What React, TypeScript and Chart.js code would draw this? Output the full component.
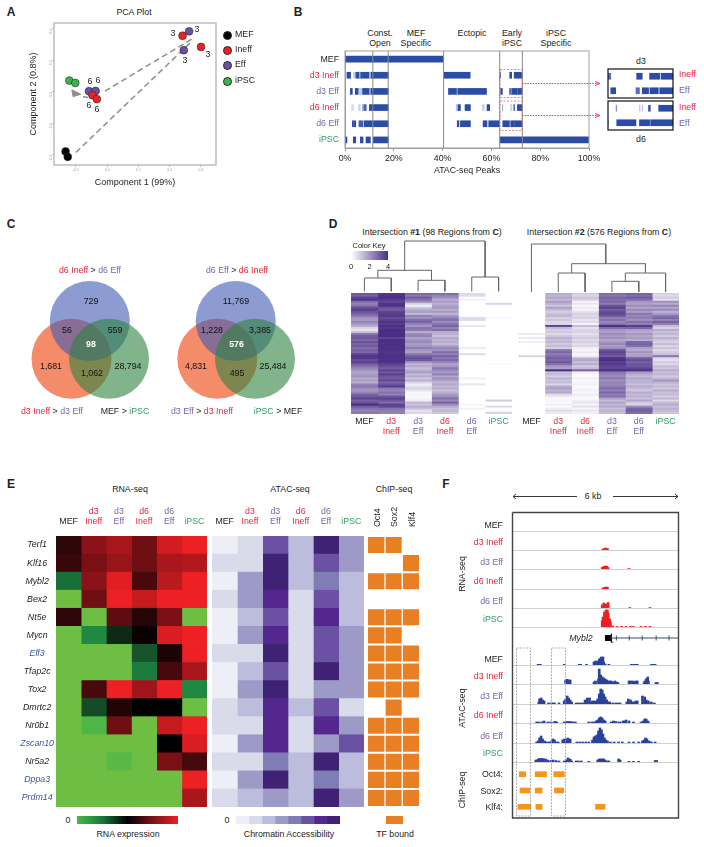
import React, { useEffect, useRef } from 'react';
import { Chart, registerables } from 'chart.js';

Chart.register(...registerables);
const FONT = '"Liberation Sans", Arial, sans-serif';
Chart.defaults.font.family = FONT;
Chart.defaults.font.size = 9;
Chart.defaults.color = '#222';

const RED = '#E6263A';
const PUR = '#7B64AE';
const GRN = '#2F9E62';
const BLK = '#222222';
const BLUE = '#3B55A5';

/* ---------- Panel A ---------- */
const pcaXTicks = [-0.1, 0, 0.1, 0.2, 0.3];
const pcaYTicks = [-0.4, -0.2, 0, 0.2, 0.4];
const pcaMEF = [[-0.133, -0.379], [-0.126, -0.413]];
const pcaIneff = [[0.241, 0.357], [0.3, 0.286], [-0.047, -0.021], [-0.033, -0.046]];
const pcaEff = [[0.262, 0.385], [0.245, 0.265], [-0.058, 0.004], [-0.037, 0.006]];
const pcaIPSC = [[-0.121, 0.072], [-0.102, 0.057]];
const pcaPathA = [[-0.1, -0.385], [0.273, 0.326]];
const pcaPathB = [[0.27, 0.335], [-0.011, 0]];
const pcaPathC = [[-0.036, -0.043], [-0.08, -0.03]];
const pcaArrowHead = [[-0.109, -0.03], [-0.113, 0.013], [-0.084, -0.015], [-0.109, -0.03]];

/* ---------- Panel B ---------- */
const bRows = ['MEF', 'd3 Ineff', 'd3 Eff', 'd6 Ineff', 'd6 Eff', 'iPSC'];
const bSections = [11.4, 17.7, 40.4, 63.4, 72.7];
const segMEF = [[0, 40.4, 1]];
const segD3Ineff = [[0.8, 2.3, 1], [3.5, 3.9, 0.3], [4.4, 5.9, 1], [5.9, 6.5, 0.5], [6.5, 7.2, 1], [7.4, 10, 1], [10, 10.7, 0.4], [10.7, 17.8, 1], [40.6, 51.3, 1], [63.45, 63.8, 0.8], [67.5, 68.3, 1], [69.35, 70.8, 1], [71, 72.7, 1]];
const segD3Eff = [[2.2, 3, 1], [4.2, 5.6, 1], [5.6, 7, 0.3], [7.2, 10, 1], [10, 10.7, 0.5], [10.7, 17.8, 1], [42.4, 45.7, 1], [46.2, 58, 1], [63.8, 64.5, 1], [67.4, 67.9, 0.8], [68.3, 69.2, 1], [69.4, 70.6, 1], [70.8, 72.7, 1]];
const segD6Ineff = [[2.7, 3.4, 0.2], [5.6, 6.3, 0.25], [7.2, 7.9, 0.6], [8, 8.7, 0.9], [10, 17.8, 1], [45.6, 46.4, 0.35], [46.4, 47.3, 1], [49.2, 51.4, 1], [56.3, 57.1, 0.25], [58.2, 59.3, 1], [64.55, 64.65, 0.6], [67.9, 68, 0.3], [68.3, 68.4, 0.3], [69.2, 69.45, 1], [70.65, 72.7, 1]];
const segD6Eff = [[3, 3.5, 1], [3.8, 4.4, 1], [5.7, 7.4, 0.9], [7.9, 17.8, 1], [46, 46.7, 1], [47.3, 51.4, 1], [56.6, 58.2, 1], [58.9, 63.4, 1], [64.65, 67.4, 1], [67.9, 69.35, 1], [69.5, 72.7, 1]];
const segIPSC = [[0, 0.8, 1], [3.4, 4.4, 1], [6.3, 7.4, 1], [8.6, 10.4, 1], [11.6, 17.8, 1], [63.6, 100, 1]];
const bSegments = [segMEF, segD3Ineff, segD3Eff, segD6Ineff, segD6Eff, segIPSC];
const bRowColors = [BLK, RED, PUR, RED, PUR, GRN];

/* ---------- Panel C ---------- */
const vennCountsLeft = ['729', '56', '559', '98', '1,681', '1,062', '28,794'];
const vennCountsRight = ['11,769', '1,228', '3,385', '576', '4,831', '495', '25,484'];

/* ---------- Panel D ---------- */
const dCols = ['MEF', ['d3', 'Ineff'], ['d3', 'Eff'], ['d6', 'Ineff'], ['d6', 'Eff'], 'iPSC'];
const dColColors1 = [BLK, RED, PUR, RED, PUR, GRN];
const dCols2 = ['MEF', ['d3', 'Ineff'], ['d6', 'Ineff'], ['d3', 'Eff'], ['d6', 'Eff'], 'iPSC'];
const dColColors2 = [BLK, RED, RED, PUR, PUR, GRN];
const i1MEF = [3.2,3.0,3.6,3.9,2.8,2.4,2.7,3.4,3.7,3.3,3.0,2.6,2.1,1.9,2.3,2.0,1.6,0.8,0.5,1.2,2.6,3.1,3.2,2.9,3.3,3.0,3.2,2.8,3.1,2.9,3.6,3.9,3.8,3.4,3.7,3.1,2.7,2.4,2.0,1.7,1.9,2.1,1.6,1.8,1.5,2.4,2.6,2.2,2.0,2.3,3.0,3.2,3.6,3.0,3.3,4.0,3.1,2.7,2.4,2.6];
const i1D3Ineff = [3.8,3.9,4.0,3.7,3.5,3.9,3.9,3.3,3.1,3.6,3.7,3.8,3.4,3.6,3.9,3.7,4.0,3.8,4.0,4.0,4.0,4.0,3.6,4.0,4.0,4.0,4.0,4.0,4.0,3.9,4.0,4.0,4.0,4.0,4.0,3.6,3.4,3.1,3.6,3.2,3.6,3.3,3.1,3.5,2.9,3.3,3.7,2.6,2.3,2.7,2.4,3.2,3.6,3.2,2.8,3.6,3.5,2.7,2.5,2.4];
const i1D3Eff = [2.9,2.6,3.1,2.7,2.2,0.9,0.3,1.1,1.6,1.9,1.3,2.4,2.1,2.8,3.0,2.4,2.0,2.7,2.5,1.6,2.2,2.4,1.8,2.1,2.3,1.9,2.1,2.5,2.0,1.8,2.6,3.1,3.4,3.2,2.0,1.4,1.7,1.2,1.6,1.9,1.3,1.6,1.1,1.5,0.9,0.3,0.6,0.9,0.5,0.2,0.2,0.1,0.2,0.4,1.4,1.1,1.6,1.2,0.6,0.8];
const i1D6Ineff = [2.8,2.4,2.1,1.6,1.9,1.5,1.8,2.0,1.6,1.9,1.4,2.0,2.4,2.8,2.2,2.6,3.0,2.4,2.7,1.6,1.5,1.2,1.7,1.4,1.6,1.3,1.9,2.3,2.1,2.8,2.4,3.0,2.6,2.9,2.3,1.8,2.0,2.6,2.2,2.0,2.4,1.7,2.1,1.8,1.4,1.7,1.3,1.6,1.2,1.5,1.9,2.2,2.7,2.3,3.0,2.2,1.6,1.2,1.4,1.1];
const i1D6Eff = [.7,.7,0,.3,0,0,0,0,0,0,0,0,.7,.7,0,0,.5,0,0,0,0,0,0,0,0,0,0,.4,0,0,.7,0,0,0,0,0,0,0,0,0,0,0,.3,0,0,.5,0,0,0,0,0,0,0,0,0,.2,0,.3,0,0];
const i1IPSC = [0,0,0,0,0,.8,0,0,0,0,0,0,.1,0,0,0,0,0,0,0,0,0,0,0,0,0,0,0,0,0,0,0,0,0,0,.1,0,0,0,0,0,0,0,0,0,0,0,0,0,0,0,0,0,1.0,0,0,.7,0,0,.8];
const i2MEF = [0,0,0,0,0,0,0,0,0,0,0,0,0,0,0,0,0,0,0,0,.4,0,.4,0,.3,0,0,0,0,0,0,.8,0,0,0,0,0,0,0,0,0,0,0,0,0,0,0,0,0,0,0,0,0,0,0,0,0,0,0,0];
const i2D3Ineff = [1.6,1.4,1.7,1.3,1.9,1.5,1.1,1.8,1.3,0.9,1.2,1.4,0.9,1.1,0.8,0.7,3.5,1.3,0.9,1.0,0.7,1.1,1.5,1.2,1.4,1.0,1.3,0.9,2.6,2.9,2.5,2.8,3.1,2.9,3.2,2.7,2.0,1.8,4.0,1.2,1.3,0.9,1.5,1.1,1.3,0.8,1.6,1.8,1.4,1.7,0.7,0.4,0.1,0.2,0.1,0.3,0.1,0.3,0.7,0.4];
const i2D6Ineff = [1.0,0.8,1.1,0.9,0.2,0.5,0.1,0.4,0.2,0.6,0.9,0.7,0.9,0.5,0.7,0.2,1.3,0.6,0.8,0.9,0.6,0.8,1.0,0.7,0.9,0.6,0.8,0.3,0.2,0.4,0.2,0.3,1.4,1.7,1.2,1.6,1.0,1.3,3.0,0.3,0.2,0.1,0.3,0.1,0.2,0.3,0.1,0.2,0.3,0.1,0.4,0.2,0.1,0.3,0.5,0.2,0.6,0.2,0.5,0.3];
const i2D3Eff = [2.8,2.6,3.0,2.7,2.9,2.5,3.3,3.6,3.1,3.4,3.5,3.2,2.4,2.7,2.3,2.6,4.0,2.8,2.0,1.8,2.2,1.9,2.1,1.7,2.0,2.3,1.9,2.2,3.3,3.6,3.4,3.2,3.9,4.0,3.7,3.8,3.6,3.5,4.0,2.6,2.4,2.2,2.6,2.1,2.4,2.2,2.5,2.8,2.4,2.9,2.5,2.7,1.8,1.3,1.7,1.4,1.6,1.2,1.5,1.3];
const i2D6Eff = [3.0,2.8,3.1,2.7,2.0,1.8,2.2,1.7,2.3,1.9,2.6,2.3,2.5,2.1,2.7,2.4,3.7,2.9,1.8,1.6,2.0,1.7,1.9,1.6,2.9,3.0,2.7,1.8,1.6,2.1,1.7,1.9,3.1,3.4,3.0,3.3,3.2,3.6,3.9,2.0,1.6,1.3,1.7,1.4,1.5,1.2,1.6,1.3,1.1,1.6,1.3,1.5,1.2,1.7,1.0,0.8,2.2,2.9,3.1,2.8];
const i2IPSC = [0.9,0.7,1.0,0.6,2.1,1.6,2.3,1.7,2.2,1.5,1.9,2.6,2.9,2.4,3.0,2.5,1.3,0.9,1.6,1.2,1.4,1.0,1.5,1.1,0.9,1.3,0.8,1.2,0.7,1.0,1.2,2.6,0.8,0.6,1.0,0.7,1.3,1.1,1.6,1.2,1.4,1.0,1.3,2.0,1.5,1.1,1.4,1.0,1.6,1.2,1.3,0.9,1.4,0.7,1.3,1.6,1.2,1.5,1.3,1.1];
const dendro1 = [
  [[0.5, 1.7], [0.5, 15], [1.5, 15], [1.5, 1.7]],
  [[2.5, 1.7], [2.5, 12.7], [3.5, 12.7], [3.5, 1.7]],
  [[4.5, 1.7], [4.5, 16], [5.5, 16], [5.5, 1.7]],
  [[1, 15], [1, 22.7], [3, 22.7], [3, 12.7]],
  [[2, 22.7], [2, 52], [5, 52], [5, 16]],
];
const dendro2 = [
  [[3.5, 1], [3.5, 11.7], [4.5, 11.7], [4.5, 1]],
  [[1.5, 1], [1.5, 20], [2.5, 20], [2.5, 1]],
  [[4, 11.7], [4, 20], [5.5, 20], [5.5, 1]],
  [[2, 20], [2, 29.3], [4.75, 29.3], [4.75, 20]],
  [[0.5, 1], [0.5, 49], [3.27, 49], [3.27, 29.3]],
];
const colorKeyTicks = [0, 2, 4];

/* ---------- Panel E ---------- */
const genes = ['Terf1', 'Klf16', 'Mybl2', 'Bex2', 'Nt5e', 'Mycn', 'Elf3', 'Tfap2c', 'Tox2', 'Dmrtc2', 'Nr0b1', 'Zscan10', 'Nr5a2', 'Dppa3', 'Prdm14'];
const blueGenes = ['Elf3', 'Zscan10', 'Dppa3', 'Prdm14'];
const eCols = ['MEF', ['d3', 'Ineff'], ['d3', 'Eff'], ['d6', 'Ineff'], ['d6', 'Eff'], 'iPSC'];
const rnaMEF = [.58, .6, .28, 0, .58, 0, 0, 0, 0, 0, 0, 0, 0, 0, 0];
const rnaD3Ineff = [.75, .72, .75, .7, 0, .22, 0, 0, .63, .35, .07, 0, 0, 0, 0];
const rnaD3Eff = [.82, .78, .97, 1, .67, .42, 0, 0, 1, .56, .7, 0, .05, 0, 0];
const rnaD6Ineff = [.7, .7, .63, .9, .57, .52, .33, .25, .8, .5, 0, 0, 0, 0, 0];
const rnaD6Eff = [.93, .83, .87, 1, .72, .95, .55, .63, 1, .5, .9, .5, .72, 0, 0];
const rnaIPSC = [1, .85, 1, 1, 0, 1, 1, .83, .22, 0, 1, .95, .62, 1, .83];
const atacMEF = [1, 2, 1, 2, 1, 1, 2, 1, 1, 2, 2, 1, 2, 1, 2];
const atacD3Ineff = [2, 2, 4, 4, 3, 4, 2, 3, 4, 3, 2, 4, 2, 4, 3];
const atacD3Eff = [6, 8, 8, 7, 6, 7, 8, 6, 8, 7, 7, 7, 5, 8, 4];
const atacD6Ineff = [3, 3, 3, 2, 2, 2, 2, 2, 2, 3, 2, 2, 3, 3, 3];
const atacD6Eff = [8, 6, 5, 6, 7, 6, 6, 8, 4, 6, 7, 4, 8, 5, 8];
const atacIPSC = [4, 4, 3, 3, 3, 4, 4, 4, 4, 2, 4, 6, 3, 3, 4];
const atacPalette = ['#EEEEF6', '#DADBEA', '#BCBDDC', '#9E9AC8', '#807DB6', '#6A51A3', '#54278F', '#3F2273'];
const atacKeyLevels = [[1], [2], [3], [4], [5], [6], [7], [8]];
const chipFactors = ['Oct4', 'Sox2', 'Klf4'];
const chipOct4 = [1, 0, 1, 0, 1, 1, 1, 1, 1, 0, 1, 1, 1, 1, 1];
const chipSox2 = [1, 0, 1, 0, 1, 1, 1, 1, 1, 1, 1, 1, 1, 1, 1];
const chipKlf4 = [0, 1, 1, 0, 1, 0, 1, 1, 1, 0, 1, 1, 1, 1, 1];

/* ---------- Panel F (bins along the 6 kb window, heights in track units) ---------- */
const trackNames = ['MEF', 'd3 Ineff', 'd3 Eff', 'd6 Ineff', 'd6 Eff', 'iPSC'];
const trackColors = [BLK, RED, PUR, RED, PUR, GRN];
const rnaTrackMEF: number[][] = [];
const rnaTrackD3Ineff = [[93, 1], [95, 1.5], [97, 2], [99, 1.5]];
const rnaTrackD3Eff = [[92, 1.5], [94, 2.5], [96, 3], [98, 2.8], [100, 1.5], [128, 0.5]];
const rnaTrackD6Ineff = [[93, 1], [95, 1.5], [97, 2], [99, 1.8]];
const rnaTrackD6Eff = [[92, 3], [94, 5], [96, 4], [98, 4], [100, 5.5], [129, 0.5], [156, 0.5]];
const rnaTrackIPSC = [[92, 6], [93, 10], [95, 15], [97, 17], [99, 17], [100, 14], [102, 8], [103, 5], [106, 1], [112, 0.6], [118, 0.6], [124, 0.6], [130, 0.6], [134, 0.6], [144, 0.6], [150, 0.6], [156, 0.6]];
const atacTrackMEF = [[6, .7], [9, .7], [41, .7], [61, .7], [63, .7], [71, .7], [81, 3], [83, 4], [85, 3.5], [87, 4], [88, 6], [90, 7], [91, 8], [93, 8], [94, 3], [96, 1], [101, .7], [131, .7], [134, .7], [137, .7], [139, .7], [158, .7], [161, .7], [163, .7]];
const atacTrackD3Ineff = [[43, 4], [45, 4.7], [47, 4], [49, 4], [81, 2], [83, 3], [87, 5], [88, 15], [90, 9], [92, 7], [94, 6], [96, 5], [98, 4], [100, 3], [102, 3], [104, 3], [106, 2], [109, 3], [111, 2], [113, 1.5], [128, 3], [130, 3], [133, 3], [135, 2], [137, 3], [139, 3], [148, 1], [149, 3], [151, 5], [153, 7], [154, 3], [164, 1.5], [166, 1.5]];
const atacTrackD3Eff = [[7, 2], [8, 5], [10, 6], [12, 4], [14, 3], [20, 1], [24, 1], [26, 1], [28, 1], [34, 1], [41, 3], [43, 5], [45, 8], [47, 6], [49, 4], [51, 2], [57, 1], [60, 1], [63, 1], [66, 1], [69, 4], [72, 6], [75, 6], [77, 2], [79, 3], [81, 3], [84, 3], [86, 5], [88, 10], [90, 15], [92, 14], [94, 10], [96, 7], [98, 4], [100, 2], [102, 2], [106, 1], [110, 1], [113, 1], [116, 1], [125, 2], [127, 5], [130, 4], [132, 2], [134, 2], [137, 3], [139, 3], [146, 8], [149, 7], [151, 4], [154, 3], [158, 2], [162, 1]];
const atacTrackD6Ineff = [[4, 1], [7, 1], [11, 1], [14, 2], [19, 1], [23, 1], [27, 1], [29, 1.5], [31, 1], [41, 1], [44, 1.5], [47, 1.5], [50, 1.5], [53, 1], [56, 1], [74, 1], [78, 1], [81, 1], [84, 2], [86, 3], [88, 5], [90, 6], [92, 5], [94, 3], [96, 2], [104, 1], [107, 2], [110, 1.5], [114, 1], [116, 1], [120, 2], [122, 2], [124, 3], [128, 2], [134, 1], [144, 1], [147, 2], [149, 4], [151, 4], [153, 2], [154, 1]];
const atacTrackD6Eff = [[4, 1], [6, 2], [8, 5], [10, 7], [12, 4], [15, 2], [18, 1], [21, 1], [24, 2], [26, 4], [28, 3], [31, 1], [33, 1], [39, 3], [41, 4], [44, 4], [46, 5], [49, 4], [58, 1], [62, 1], [66, 1], [70, 1], [74, 1], [79, 3], [81, 6], [83, 7], [85, 8], [87, 12], [89, 15], [91, 13], [93, 9], [95, 5], [97, 3], [99, 2], [103, 1], [108, 1], [114, 1], [119, 1], [128, 1], [134, 1], [141, 1], [146, 2], [148, 3], [150, 5], [152, 4], [155, 2], [158, 1], [163, 1]];
const atacTrackIPSC = [[3, 2], [6, 3], [8, 3.5], [10, 3.5], [13, 3.5], [16, 3], [19, 2], [23, 1.5], [26, 2], [30, 1.5], [34, 1], [41, 1], [44, 2], [46, 4], [49, 3], [51, 1], [57, 1], [60, 1], [64, 1], [74, .7], [86, 2], [88, 3], [90, 3], [92, 3], [94, 3], [96, 2], [99, 1], [101, 1], [114, 3], [116, 2], [128, .7], [134, .7], [141, .7], [163, 1.5], [165, 1.5]];
const rnaTracks = [rnaTrackMEF, rnaTrackD3Ineff, rnaTrackD3Eff, rnaTrackD6Ineff, rnaTrackD6Eff, rnaTrackIPSC];
const atacTracks = [atacTrackMEF, atacTrackD3Ineff, atacTrackD3Eff, atacTrackD6Ineff, atacTrackD6Eff, atacTrackIPSC];
const chipRows = ['Oct4', 'Sox2', 'Klf4'];
const chipPeaksOct4 = [[6.3, 12.7], [22.3, 33.7], [41, 51.7]];
const chipPeaksSox2 = [[7, 17], [22.3, 29.3], [41.7, 51]];
const chipPeaksKlf4 = [[5, 18], [23, 29.3], [83, 92.7]];
const geneExons = [104, 117, 130, 144, 157];
const geneIntron = [[98, 0], [166, 0]];
const geneTSS = [[95.5, 0]];
const geneBracket = [[99, 3], [99, -3], [101, -3]];

/* ---------- Helpers ---------- */
const lerp = (a: number[], b: number[], t: number) =>
  `rgb(${a.map((v, i) => Math.round(v + (b[i] - v) * t)).join(',')})`;
const purple = (v: number) => lerp([255, 255, 255], [74, 46, 132], Math.min(1, v / 4));
const rnaStops: any[] = [[0, [111, 190, 68]], [0.12, [53, 178, 74]], [0.25, [27, 123, 62]], [0.4, [18, 51, 28]], [0.5, [0, 0, 0]], [0.75, [139, 18, 24]], [1, [237, 32, 36]]];
const rnaColor = (v: number) => {
  for (let i = 1; i < rnaStops.length; i++) {
    if (v <= rnaStops[i][0]) {
      const [a, ca] = rnaStops[i - 1];
      const [b, cb] = rnaStops[i];
      return lerp(ca, cb, (v - a) / (b - a));
    }
  }
  return 'rgb(237,32,36)';
};
const segColor = (l: number) => lerp([255, 255, 255], [42, 76, 164], l);

const framePlugin: any = {
  id: 'frame',
  afterDatasetsDraw(chart: any, _a: any, o: any) {
    if (!o || !o.color) return;
    const { left, top, width, height } = chart.chartArea;
    const c = chart.ctx;
    c.save();
    c.strokeStyle = o.color;
    c.lineWidth = o.width || 1;
    c.strokeRect(left, top, width, height);
    c.restore();
  },
};
const sectionsPlugin: any = {
  id: 'sections',
  afterDatasetsDraw(chart: any, _a: any, o: any) {
    if (!o || !o.values) return;
    const c = chart.ctx;
    const { top, bottom } = chart.chartArea;
    c.save();
    c.strokeStyle = o.color;
    c.lineWidth = 1;
    for (const v of o.values) {
      const x = chart.scales.x.getPixelForValue(v);
      c.beginPath();
      c.moveTo(x, top);
      c.lineTo(x, bottom);
      c.stroke();
    }
    c.restore();
  },
};
Chart.register(framePlugin, sectionsPlugin);

type M = { l?: number; t?: number; r?: number; b?: number };
type PlotDef = { plot: number[]; m?: M; config: any };

const NO_GRID = { display: false, drawTicks: false };

const baseOptions = (padding: any, extra: any = {}) => ({
  responsive: false,
  animation: false,
  events: [],
  layout: { padding, autoPadding: false },
  ...extra,
  plugins: { legend: { display: false }, tooltip: { enabled: false }, title: { display: false }, ...(extra.plugins || {}) },
});
const fit = (prop: string, n: number) => (s: any) => {
  s[prop] = n;
  s.paddingLeft = 0;
  s.paddingRight = 0;
  s.paddingTop = 0;
  s.paddingBottom = 0;
};

function Plot({ plot, m = {}, config }: PlotDef) {
  const ref = useRef<HTMLCanvasElement>(null);
  const l = m.l || 0, t = m.t || 0, r = m.r || 0, b = m.b || 0;
  const w = plot[2] - plot[0] + l + r;
  const h = plot[3] - plot[1] + t + b;
  useEffect(() => {
    const chart = new Chart(ref.current as any, config);
    return () => chart.destroy();
  }, []);
  return (
    <canvas
      ref={ref}
      width={w}
      height={h}
      style={{ position: 'absolute', left: plot[0] - l, top: plot[1] - t, width: w, height: h, display: 'block' }}
    />
  );
}

function T({ x, y, c = BLK, s = 8.8, a = 'c', rot = 0, b = false, i = false, children }: any) {
  const tx = a === 'c' ? '-50%' : a === 'r' ? '-100%' : '0';
  return (
    <span
      style={{
        position: 'absolute', left: x, top: y, color: c, fontSize: s, fontFamily: FONT, lineHeight: 1,
        fontWeight: b ? 700 : 400, fontStyle: i ? 'italic' : 'normal', whiteSpace: 'nowrap',
        transform: `translate(${tx},-50%)${rot ? ` rotate(${rot}deg)` : ''}`,
      }}
    >
      {children}
    </span>
  );
}

/* ---------- Configs ---------- */
const xy = (pts: number[][]) => pts.map(([x, y]) => ({ x, y }));
const pathDs = (pts: number[][], color: string, width: number, dash: number[] = []) => ({
  type: 'scatter', data: xy(pts), showLine: true, borderColor: color, borderWidth: width, borderDash: dash, pointRadius: 0, fill: false, tension: 0,
});
const ptDs = (pts: number[][], color: string) => ({
  data: xy(pts), backgroundColor: color, borderColor: '#2a2a2a', borderWidth: 0.6, pointRadius: 3.9, showLine: false,
});

const pcaConfig = {
  type: 'scatter',
  data: {
    datasets: [
      ptDs(pcaMEF, '#000000'), ptDs(pcaIneff, '#ED2024'), ptDs(pcaEff, '#6A4FA3'), ptDs(pcaIPSC, '#3AB54A'),
      pathDs(pcaPathA, '#8E8E8E', 1.5, [6, 3.5]), pathDs(pcaPathB, '#8E8E8E', 1.5, [6, 3.5]), pathDs(pcaPathC, '#8E8E8E', 1.5, [5, 3]),
      { ...pathDs(pcaArrowHead, '#8E8E8E', 1), fill: 'shape', backgroundColor: '#8E8E8E' },
    ],
  },
  options: baseOptions({ top: 5, right: 2 }, {
    scales: {
      x: {
        min: -0.17, max: 0.348,
        afterBuildTicks: (s: any) => { s.ticks = pcaXTicks.map((value) => ({ value })); },
        afterFit: fit('height', 23),
        grid: { drawOnChartArea: false, tickLength: 2, color: '#bbb' }, border: { display: false },
        ticks: { font: { size: 3.5 }, color: '#999', padding: 1, autoSkip: false, maxRotation: 0, callback: (v: number) => v.toFixed(1) },
        title: { display: true, text: 'Component 1 (99%)', font: { size: 9 }, color: BLK, padding: 0 },
      },
      y: {
        min: -0.465, max: 0.438,
        afterBuildTicks: (s: any) => { s.ticks = pcaYTicks.map((value) => ({ value })); },
        afterFit: fit('width', 26),
        grid: { drawOnChartArea: false, tickLength: 2, color: '#bbb' }, border: { display: false },
        ticks: { font: { size: 3.5 }, color: '#999', padding: 1, autoSkip: false, minRotation: 90, maxRotation: 90, callback: (v: number) => v.toFixed(1) },
        title: { display: true, text: 'Component 2 (0.8%)', font: { size: 9 }, color: BLK, padding: 0 },
      },
    },
    plugins: { frame: { color: '#BDBDBD', width: 1.5 } },
  }),
};

const segDatasets = (idx: number[]) =>
  idx.map((k) => ({
    data: bSegments[k].map((s) => ({ x: [s[0], s[1]], y: bRows[k] })),
    backgroundColor: bSegments[k].map((s) => segColor(s[2])),
    barThickness: 6, grouped: false, borderWidth: 0,
  }));

const bConfig = {
  type: 'bar',
  data: { labels: bRows, datasets: segDatasets([0, 1, 2, 3, 4, 5]) },
  options: baseOptions({ right: 16, top: 2 }, {
    indexAxis: 'y',
    scales: {
      x: {
        type: 'linear', min: 0, max: 100, afterFit: fit('height', 28),
        grid: { drawOnChartArea: false, tickLength: 3, color: '#999' }, border: { color: '#999' },
        ticks: { stepSize: 20, padding: 2, font: { size: 8.8 }, color: BLK, maxRotation: 0, callback: (v: number) => `${v}%` },
        title: { display: true, text: 'ATAC-seq Peaks', font: { size: 8.8 }, color: BLK, padding: 0 },
      },
      y: {
        type: 'category', afterFit: fit('width', 45),
        grid: NO_GRID, border: { color: '#999' },
        ticks: { padding: 6, font: { size: 8.8 }, autoSkip: false, color: (c: any) => bRowColors[c.index] },
      },
    },
    plugins: { frame: { color: '#A0A0A0', width: 1 }, sections: { values: bSections, color: '#8A8A8A' } },
  }),
};

const insetConfig = (rowsIdx: number[]) => ({
  type: 'bar',
  data: { labels: rowsIdx.map((k) => bRows[k]), datasets: segDatasets(rowsIdx) },
  options: baseOptions({ left: 1, right: 1, top: 1, bottom: 1 }, {
    indexAxis: 'y',
    scales: {
      x: { type: 'linear', min: 63.4, max: 72.7, display: false },
      y: { type: 'category', display: false },
    },
    plugins: { frame: { color: '#111', width: 1.2 } },
  }),
});

const vennConfig = (blue: number[], orange: number[], green: number[]) => ({
  type: 'bubble',
  data: {
    datasets: [
      { data: [{ x: green[0], y: green[1], r: 40 }], backgroundColor: 'rgba(47,130,63,0.6)', borderWidth: 0 },
      { data: [{ x: blue[0], y: blue[1], r: 40 }], backgroundColor: 'rgba(63,88,180,0.6)', borderWidth: 0 },
      { data: [{ x: orange[0], y: orange[1], r: 40 }], backgroundColor: 'rgb(245,140,105)', borderWidth: 0 },
    ],
  },
  options: baseOptions(0, {
    scales: { x: { min: 0, max: 140, display: false }, y: { min: 0, max: 135, reverse: true, display: false } },
  }),
});

function heatConfig(o: any) {
  const { rows, cols, values, color, m = {}, rowAxis, colAxis, cell = {} } = o;
  const scales: any = {
    x: { type: 'linear', stacked: true, min: 0, max: cols.length, display: false },
    y: rowAxis
      ? {
          type: 'category', stacked: true, afterFit: fit('width', m.l), grid: NO_GRID, border: { display: false },
          ticks: { autoSkip: false, padding: 2, crossAlign: 'center', font: { size: 8.8, style: 'italic' }, color: (c: any) => (blueGenes.includes(rows[c.index]) ? BLUE : BLK) },
        }
      : { type: 'category', stacked: true, display: false },
  };
  if (colAxis) {
    scales.colAxis = {
      type: 'category', axis: 'x', labels: cols, position: colAxis.position, offset: true,
      afterFit: fit('height', colAxis.position === 'top' ? m.t : m.b),
      grid: NO_GRID, border: { display: false },
      ticks: {
        autoSkip: false, padding: colAxis.padding, font: { size: 8.8 },
        minRotation: colAxis.rotate || 0, maxRotation: colAxis.rotate || 0,
        labelOffset: colAxis.labelOffset || 0,
        color: (c: any) => colAxis.colors[c.index],
      },
    };
  }
  const padding = {
    left: rowAxis ? 0 : m.l || 0,
    right: m.r || 0,
    top: colAxis && colAxis.position === 'top' ? 0 : m.t || 0,
    bottom: colAxis && colAxis.position === 'bottom' ? 0 : m.b || 0,
  };
  return {
    type: 'bar',
    data: {
      labels: rows,
      datasets: values.map((col: number[]) => ({
        data: col.map(() => 1), backgroundColor: col.map(color),
        barPercentage: 1, categoryPercentage: 1, borderWidth: 0, ...cell,
      })),
    },
    options: baseOptions(padding, { indexAxis: 'y', scales }),
  };
}

const rowIdx = i1MEF.map((_, i) => `r${i}`);

const dendroConfig = (merges: number[][][]) => ({
  type: 'scatter',
  data: { datasets: merges.map((p) => pathDs(p, '#666', 1)) },
  options: baseOptions({ top: 2 }, {
    scales: { x: { min: 0, max: 6, display: false }, y: { min: 0, max: 53, display: false } },
  }),
});

const gradientBar = (stops: any[], lo: number, hi: number, ticks: number[] | null, m: M) => ({
  type: 'bar',
  data: {
    labels: ['key'],
    datasets: [{
      data: [[lo, hi]], barPercentage: 1, categoryPercentage: 1, borderWidth: 0,
      backgroundColor: (c: any) => {
        const a = c.chart.chartArea;
        if (!a) return '#888';
        const g = c.chart.ctx.createLinearGradient(a.left, 0, a.right, 0);
        stops.forEach(([p, col]) => g.addColorStop(p, col));
        return g;
      },
    }],
  },
  options: baseOptions({ left: m.l || 0, right: m.r || 0, top: m.t || 0, bottom: ticks ? 0 : m.b || 0 }, {
    indexAxis: 'y',
    scales: {
      x: ticks
        ? {
            type: 'linear', min: lo, max: hi, afterFit: fit('height', m.b),
            grid: NO_GRID, border: { display: false },
            ticks: { stepSize: ticks[1] - ticks[0], padding: 2, font: { size: 7.5 }, color: BLK, maxRotation: 0 },
          }
        : { type: 'linear', min: lo, max: hi, display: false },
      y: { type: 'category', display: false },
    },
  }),
});

const trackConfig = (pts: number[][], color: string) => ({
  type: 'bar',
  data: { datasets: [{ data: xy(pts), backgroundColor: color, barThickness: 2, borderWidth: 0 }] },
  options: baseOptions(0, {
    scales: {
      x: { type: 'linear', min: 0, max: 166, afterFit: fit('height', 2), grid: NO_GRID, border: { color: '#CFCFCF', width: 1 }, ticks: { display: false } },
      y: { type: 'linear', min: 0, max: 18, display: false },
    },
  }),
});

const chipConfig = {
  type: 'bar',
  data: {
    labels: chipRows,
    datasets: [chipPeaksOct4, chipPeaksSox2, chipPeaksKlf4].map((peaks, k) => ({
      data: peaks.map((p) => ({ x: p, y: chipRows[k] })),
      backgroundColor: '#F7941E', barThickness: 5, grouped: false, borderWidth: 0,
    })),
  },
  options: baseOptions(0, {
    indexAxis: 'y',
    scales: { x: { type: 'linear', min: 0, max: 166, display: false }, y: { type: 'category', display: false } },
  }),
};

const geneConfig = {
  type: 'scatter',
  data: {
    datasets: [
      pathDs(geneIntron, '#3B4A7A', 1),
      { data: geneExons.map((x) => ({ x, y: 0 })), pointStyle: 'line', rotation: 90, pointRadius: 2.5, borderColor: '#3B4A7A', borderWidth: 1, showLine: false },
      { data: xy(geneTSS), pointStyle: 'rect', pointRadius: 4.2, backgroundColor: '#000', borderWidth: 0, showLine: false },
      pathDs(geneBracket, '#000', 0.8),
    ],
  },
  options: baseOptions(0, {
    scales: { x: { min: 0, max: 166, display: false }, y: { min: -5, max: 5, display: false } },
  }),
};

/* Page-level annotation strokes: boxes and arrows that sit over the panels. */
const rect = (a: number, b: number, c: number, d: number) => [[a, b], [c, b], [c, d], [a, d], [a, b]];
const overlayPaths: any[] = [
  [rect(512.5, 512.5, 678.5, 818), '#444', 1.4],
  [rect(516.5, 648, 530.5, 816), '#9A9A9A', 0.8, [2, 1.2]],
  [rect(551.5, 648, 565.5, 816), '#9A9A9A', 0.8, [2, 1.2]],
  [rect(500, 69.5, 522, 97.5), '#EE5A6E', 0.8, [2, 1.5]],
  [rect(500, 101, 522, 130.5), '#EE5A6E', 0.8, [2, 1.5]],
  [[[522, 83.5], [598, 83.5]], '#E6263A', 0.9, [1.5, 1.2]],
  [[[522, 115.5], [598, 115.5]], '#E6263A', 0.9, [1.5, 1.2]],
  [[[595, 81.5], [600, 83.5], [595, 85.5]], '#E6263A', 0.9],
  [[[595, 113.5], [600, 115.5], [595, 117.5]], '#E6263A', 0.9],
  [[[513, 496.5], [577, 496.5]], '#222', 0.9],
  [[[613, 496.5], [678, 496.5]], '#222', 0.9],
  [[[516, 494], [513, 496.5], [516, 499]], '#222', 0.9],
  [[[675, 494], [678, 496.5], [675, 499]], '#222', 0.9],
];
const overlayConfig = {
  type: 'scatter',
  data: { datasets: overlayPaths.map(([p, c, w, d]) => pathDs(p, c, w, d || [])) },
  options: baseOptions(0, {
    scales: { x: { min: 0, max: 704, display: false }, y: { min: 0, max: 847, reverse: true, display: false } },
  }),
};

/* ---------- Layout ---------- */
const rnaBases = [531, 550, 569, 589, 608, 627];
const atacBases = [665, 684, 704, 723, 743, 762];
const fRnaLabelY = [525, 542, 562, 581, 601, 619];
const fAtacLabelY = [659, 676, 696, 715, 736, 753];
const VENN_Y = [[91, 301], [67, 330], [115, 330], [91, 344], [51, 366], [92, 373], [128, 366]];
const VENN_Y2 = [[236, 301], [212, 330], [260, 330], [236.5, 344], [196, 366], [237, 373], [273, 366]];

export default function App() {
  return (
    <div style={{ position: 'absolute', left: 0, top: 0, width: 704, height: 847, background: '#fff', overflow: 'hidden' }}>
      {/* Panel letters */}
      <T x={11} y={12} s={12} b>A</T>
      <T x={298} y={12} s={12} b>B</T>
      <T x={11} y={224} s={12} b>C</T>
      <T x={333} y={224} s={12} b>D</T>
      <T x={11} y={484} s={12} b>E</T>
      <T x={446} y={484} s={12} b>F</T>

      {/* A */}
      <T x={134} y={12}>PCA Plot</T>
      <Plot plot={[54, 23, 216, 165]} m={{ l: 26, t: 5, r: 2, b: 23 }} config={pcaConfig} />
      {[[173, 33], [197, 29], [208, 54], [185, 60]].map(([x, y], i) => <T key={i} x={x} y={y}>3</T>)}
      {[[90, 81], [98, 80], [89, 105], [97, 109]].map(([x, y], i) => <T key={i} x={x} y={y}>6</T>)}
      {[['MEF', '#000', 35], ['Ineff', '#ED2024', 50], ['Eff', '#6A4FA3', 65], ['iPSC', '#3AB54A', 81]].map(([n, c, y]: any) => (
        <React.Fragment key={n}>
          <span style={{ position: 'absolute', left: 223, top: y - 4, width: 7, height: 7, borderRadius: '50%', background: c, border: '0.6px solid #2a2a2a' }} />
          <T x={235} y={y - 1} a="l">{n}</T>
        </React.Fragment>
      ))}

      {/* B */}
      <T x={380} y={33}>Const.</T><T x={380} y={43}>Open</T>
      <T x={416} y={33}>MEF</T><T x={416} y={43}>Specific</T>
      <T x={472} y={33}>Ectopic</T>
      <T x={512} y={33}>Early</T><T x={512} y={43}>iPSC</T>
      <T x={556} y={33}>iPSC</T><T x={556} y={43}>Specific</T>
      <Plot plot={[345, 51, 589, 148]} m={{ l: 45, t: 2, r: 16, b: 28 }} config={bConfig} />
      <Plot plot={[608, 69, 673, 98]} m={{ l: 1, t: 1, r: 1, b: 1 }} config={insetConfig([1, 2])} />
      <Plot plot={[608, 101, 673, 130]} m={{ l: 1, t: 1, r: 1, b: 1 }} config={insetConfig([3, 4])} />
      <T x={641} y={61}>d3</T>
      <T x={641} y={139}>d6</T>
      <T x={679} y={74} a="l" c={RED}>Ineff</T>
      <T x={679} y={90} a="l" c={PUR}>Eff</T>
      <T x={679} y={107} a="l" c={RED}>Ineff</T>
      <T x={679} y={123} a="l" c={PUR}>Eff</T>

      {/* C */}
      <Plot plot={[25, 275, 165, 410]} config={vennConfig([64.8, 46], [46.5, 83.7], [84, 83.7])} />
      <Plot plot={[170, 275, 310, 410]} config={vennConfig([65.7, 46], [47.3, 83.7], [85, 83.7])} />
      {vennCountsLeft.map((n, i) => <T key={n} x={VENN_Y[i][0]} y={VENN_Y[i][1]} c={i === 3 ? '#fff' : '#111'} b={i === 3}>{n}</T>)}
      {vennCountsRight.map((n, i) => <T key={n} x={VENN_Y2[i][0]} y={VENN_Y2[i][1]} c={i === 3 ? '#fff' : '#111'} b={i === 3}>{n}</T>)}
      <T x={90} y={270}><span style={{ color: RED }}>d6 Ineff</span> &gt; <span style={{ color: PUR }}>d6 Eff</span></T>
      <T x={237} y={270}><span style={{ color: PUR }}>d6 Eff</span> &gt; <span style={{ color: RED }}>d6 Ineff</span></T>
      <T x={52} y={411}><span style={{ color: RED }}>d3 Ineff</span> &gt; <span style={{ color: PUR }}>d3 Eff</span></T>
      <T x={125} y={411}>MEF &gt; <span style={{ color: GRN }}>iPSC</span></T>
      <T x={202} y={411}><span style={{ color: PUR }}>d3 Eff</span> &gt; <span style={{ color: RED }}>d3 Ineff</span></T>
      <T x={278} y={411}><span style={{ color: GRN }}>iPSC</span> &gt; MEF</T>

      {/* D */}
      <T x={432} y={232}>Intersection <b>#1</b> (98 Regions from <b>C</b>)</T>
      <T x={599} y={232}>Intersection <b>#2</b> (576 Regions from <b>C</b>)</T>
      <Plot plot={[351, 240, 512, 293]} m={{ t: 2 }} config={dendroConfig(dendro1)} />
      <Plot plot={[518, 240, 679, 293]} m={{ t: 2 }} config={dendroConfig(dendro2)} />
      <T x={369} y={245.5} s={7.5}>Color Key</T>
      <Plot plot={[351, 251, 388, 260]} m={{ l: 6, r: 6, b: 12 }} config={gradientBar([[0, '#ffffff'], [1, '#4A2E84']], 0, colorKeyTicks[2], colorKeyTicks, { l: 6, r: 6, b: 12 })} />
      <Plot
        plot={[351, 293, 512, 414]}
        m={{ b: 26 }}
        config={heatConfig({ rows: rowIdx, cols: dCols, values: [i1MEF, i1D3Ineff, i1D3Eff, i1D6Ineff, i1D6Eff, i1IPSC], color: purple, m: { b: 26 }, colAxis: { position: 'bottom', padding: 2, colors: dColColors1 } })}
      />
      <Plot
        plot={[518, 293, 679, 414]}
        m={{ b: 26 }}
        config={heatConfig({ rows: rowIdx, cols: dCols2, values: [i2MEF, i2D3Ineff, i2D6Ineff, i2D3Eff, i2D6Eff, i2IPSC], color: purple, m: { b: 26 }, colAxis: { position: 'bottom', padding: 2, colors: dColColors2 } })}
      />

      {/* E */}
      <T x={130} y={489}>RNA-seq</T>
      <T x={290} y={489}>ATAC-seq</T>
      <T x={394} y={489}>ChIP-seq</T>
      <Plot
        plot={[56, 536, 207, 807]}
        m={{ l: 50, t: 40 }}
        config={heatConfig({ rows: genes, cols: eCols, values: [rnaMEF, rnaD3Ineff, rnaD3Eff, rnaD6Ineff, rnaD6Eff, rnaIPSC], color: rnaColor, m: { l: 50, t: 40 }, rowAxis: true, colAxis: { position: 'top', padding: 9, colors: dColColors1 } })}
      />
      <Plot
        plot={[212, 536, 364, 807]}
        m={{ t: 40 }}
        config={heatConfig({ rows: genes, cols: eCols, values: [atacMEF, atacD3Ineff, atacD3Eff, atacD6Ineff, atacD6Eff, atacIPSC], color: (v: number) => atacPalette[v - 1], m: { t: 40 }, colAxis: { position: 'top', padding: 9, colors: dColColors1 } })}
      />
      <Plot
        plot={[368, 536, 420, 807]}
        m={{ t: 40 }}
        config={heatConfig({ rows: genes, cols: chipFactors, values: [chipOct4, chipSox2, chipKlf4], color: (v: number) => (v ? '#E97F23' : '#ffffff'), m: { t: 40 }, cell: { borderColor: '#ffffff', borderWidth: 1, inflateAmount: 0 }, colAxis: { position: 'top', padding: 9, rotate: 90, labelOffset: 11.5, colors: [BLK, BLK, BLK] } })}
      />
      <T x={68} y={820}>0</T>
      <Plot plot={[77, 816, 178, 824]} config={gradientBar([[0, '#4DB848'], [0.25, '#15793A'], [0.5, '#000000'], [0.75, '#7A1218'], [1, '#ED2024']], 0, 1, null, {})} />
      <T x={128} y={834}>RNA expression</T>
      <T x={227} y={820}>0</T>
      <Plot plot={[236, 816, 340, 824]} config={heatConfig({ rows: ['key'], cols: atacPalette, values: atacKeyLevels, color: (v: number) => atacPalette[v - 1] })} />
      <T x={289} y={834}>Chromatin Accessibility</T>
      <Plot plot={[386, 816, 403, 824]} config={heatConfig({ rows: ['key'], cols: ['bound'], values: [[1]], color: () => '#E97F23' })} />
      <T x={395} y={834}>TF bound</T>

      {/* F */}
      <T x={593} y={496}>6 kb</T>
      {rnaTracks.map((pts, i) => (
        <Plot key={`r${i}`} plot={[513, rnaBases[i] - 18, 678, rnaBases[i]]} m={{ b: 2 }} config={trackConfig(pts, '#ED2024')} />
      ))}
      {atacTracks.map((pts, i) => (
        <Plot key={`a${i}`} plot={[513, atacBases[i] - 18, 678, atacBases[i]]} m={{ b: 2 }} config={trackConfig(pts, '#2A4299')} />
      ))}
      {trackNames.map((n, i) => <T key={`tr${i}`} x={503} y={fRnaLabelY[i]} a="r" c={trackColors[i]}>{n}</T>)}
      {trackNames.map((n, i) => <T key={`ta${i}`} x={503} y={fAtacLabelY[i]} a="r" c={trackColors[i]}>{n}</T>)}
      <T x={461.5} y={574} rot={-90}>RNA-seq</T>
      <T x={461.5} y={708} rot={-90}>ATAC-seq</T>
      <T x={461.5} y={790} rot={-90}>ChIP-seq</T>
      <T x={581} y={638} i>Mybl2</T>
      <Plot plot={[513, 631, 678, 645]} config={geneConfig} />
      <Plot plot={[513, 766, 678, 815]} config={chipConfig} />
      <T x={503} y={774} a="r">Oct4:</T>
      <T x={503} y={791} a="r">Sox2:</T>
      <T x={503} y={807} a="r">Klf4:</T>

      {/* Overlay annotations */}
      <Plot plot={[0, 0, 704, 847]} config={overlayConfig} />
    </div>
  );
}
